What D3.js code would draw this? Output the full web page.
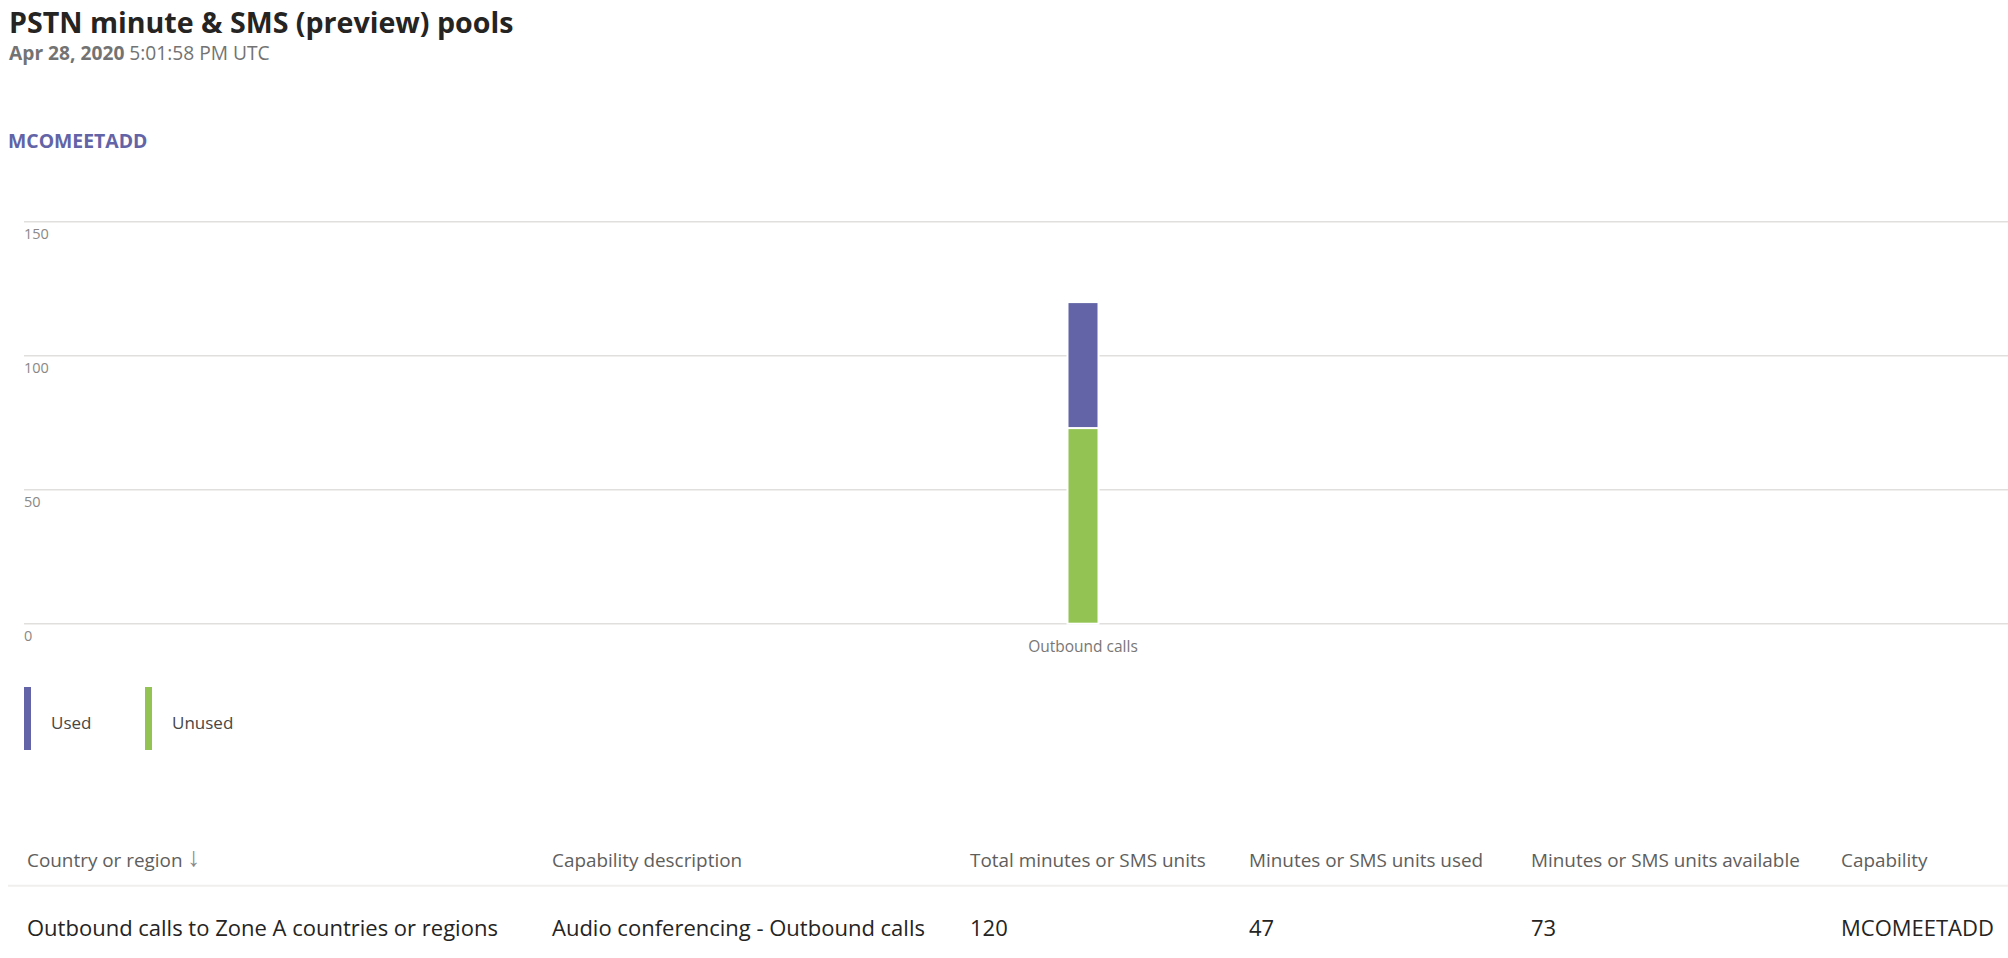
<!DOCTYPE html>
<html>
<head>
<meta charset="utf-8">
<script src="https://cdn.jsdelivr.net/npm/d3@7"></script>
<style>
  html, body { margin: 0; padding: 0; background: #ffffff; }
  svg { display: block; font-family: "Open Sans", "Noto Sans", sans-serif; }
</style>
</head>
<body>
<svg id="chart" width="2008" height="958"></svg>
<script>
// ---------- DATA ----------
const title = "PSTN minute & SMS (preview) pools";
const dateBold = "Apr 28, 2020";
const timeText = "5:01:58 PM UTC";
const capabilityName = "MCOMEETADD";

const categories = ["Outbound calls"];
const seriesKeys = ["Unused", "Used"];        // stack order: bottom → top
const usedValues = [47];
const unusedValues = [73];
const yTicks = [0, 50, 100, 150];
const legendLabels = ["Used", "Unused"];

const tableHeaders = ["Country or region", "Capability description", "Total minutes or SMS units",
                      "Minutes or SMS units used", "Minutes or SMS units available", "Capability"];
const tableRow = ["Outbound calls to Zone A countries or regions", "Audio conferencing - Outbound calls",
                  "120", "47", "73", "MCOMEETADD"];

// ---------- STYLE ----------
const colors = { Used: "#6264a7", Unused: "#92c353" };

const svg = d3.select("#chart");

// Header texts
svg.append("text").attr("x", 9).attr("y", 32.5)
  .attr("font-size", 28.6).attr("font-weight", 700).attr("fill", "#252423")
  .text(title);

const dt = svg.append("text").attr("x", 9).attr("y", 60)
  .attr("font-size", 19.2).attr("fill", "#737373");
dt.append("tspan").attr("font-weight", 700).text(dateBold);
dt.append("tspan").text(" " + timeText);

svg.append("text").attr("x", 8).attr("y", 147.5)
  .attr("font-size", 19.4).attr("font-weight", 700).attr("fill", "#6264a7")
  .text(capabilityName);

// ---------- CHART ----------
const plotLeft = 24, plotRight = 2142, y0px = 623.7, yTopPx = 221.7;
const y = d3.scaleLinear().domain([0, 150]).range([y0px, yTopPx]);
const x = d3.scalePoint().domain(categories).range([plotLeft, plotRight]).padding(0.5);
const barWidth = 31;

// gridlines
const grid = svg.append("g");
grid.selectAll("line").data(yTicks).join("line")
  .attr("x1", plotLeft).attr("x2", 2008)
  .attr("y1", d => y(d)).attr("y2", d => y(d))
  .attr("stroke", "#e1dfdd").attr("stroke-width", 1.4);

// y tick labels (below the gridline)
svg.append("g").selectAll("text").data(yTicks).join("text")
  .attr("x", plotLeft).attr("y", d => y(d) + 17)
  .attr("font-size", 14.5).attr("fill", "#8a8886")
  .text(d => d);

// stacked bars
const rows = categories.map((c, i) => ({ category: c, Used: usedValues[i], Unused: unusedValues[i] }));
const stacked = d3.stack().keys(seriesKeys)(rows);
svg.append("g").selectAll("g").data(stacked).join("g")
  .attr("fill", d => colors[d.key])
  .selectAll("rect").data(d => d).join("rect")
  .attr("x", d => x(d.data.category) - barWidth / 2)
  .attr("width", barWidth)
  .attr("y", d => y(d[1]))
  .attr("height", d => y(d[0]) - y(d[1]))
  .attr("stroke", "#ffffff").attr("stroke-width", 2);

// category labels
svg.append("g").selectAll("text").data(categories).join("text")
  .attr("x", d => x(d)).attr("y", 652)
  .attr("text-anchor", "middle")
  .attr("font-size", 15.5).attr("fill", "#797775")
  .text(d => d);

// ---------- LEGEND ----------
const legendX = [24, 145];
const lg = svg.append("g").selectAll("g").data(legendLabels).join("g")
  .attr("transform", (d, i) => `translate(${legendX[i]},687)`);
lg.append("rect").attr("x", 0).attr("y", 0).attr("width", 7).attr("height", 63)
  .attr("fill", d => colors[d]);
lg.append("text").attr("x", 27).attr("y", 42)
  .attr("font-size", 17).attr("fill", "#484644")
  .text(d => d);

// ---------- TABLE ----------
const colX = [27, 552, 970, 1249, 1531, 1841];
svg.append("g").selectAll("text").data(tableHeaders).join("text")
  .attr("x", (d, i) => colX[i]).attr("y", 867)
  .attr("font-size", 18.9).attr("fill", "#605e5c")
  .text(d => d);
svg.append("text").attr("x", 187).attr("y", 866)
  .attr("font-size", 27).attr("font-weight", 300).attr("fill", "#8a8886").text("↓");

svg.append("line").attr("x1", 8).attr("x2", 2008).attr("y1", 885.7).attr("y2", 885.7)
  .attr("stroke", "#f0efee").attr("stroke-width", 2);

svg.append("g").selectAll("text").data(tableRow).join("text")
  .attr("x", (d, i) => colX[i]).attr("y", 936)
  .attr("font-size", 22).attr("fill", "#252423")
  .text(d => d);
</script>
</body>
</html>
